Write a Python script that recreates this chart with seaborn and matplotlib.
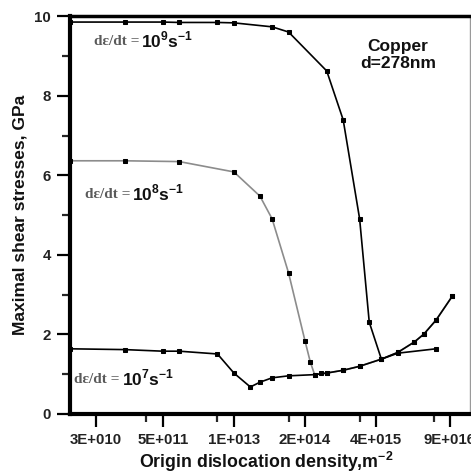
import matplotlib
matplotlib.use('Agg')
import matplotlib.pyplot as plt
from matplotlib.ticker import FixedLocator, NullFormatter
import pandas as pd
import seaborn as sns

# strain rate 10^7 s^-1
x_r7 = [1e10, 1e11, 5e11, 1e12, 5e12, 1e13, 2e13, 3e13, 5e13, 1e14, 3e14, 5e14, 1e15, 2e15, 5e15, 1e16, 5e16]
y_r7 = [1.64, 1.62, 1.58, 1.58, 1.51, 1.03, 0.68, 0.80, 0.91, 0.96, 0.99, 1.03, 1.10, 1.20, 1.38, 1.53, 1.64]

# strain rate 10^8 s^-1
x_r8 = [1e10, 1e11, 1e12, 1e13, 3e13, 5e13, 1e14, 2e14, 2.5e14, 3e14, 4e14, 5e14, 1e15, 2e15, 5e15, 1e16,
        2e16, 3e16, 5e16, 1e17]
y_r8 = [6.37, 6.37, 6.35, 6.09, 5.48, 4.91, 3.55, 1.84, 1.31, 0.99, 1.02, 1.03, 1.10, 1.20, 1.38, 1.55,
        1.81, 2.01, 2.36, 2.97]

# strain rate 10^9 s^-1
x_r9 = [1e10, 1e11, 5e11, 1e12, 5e12, 1e13, 5e13, 1e14, 5e14, 1e15, 2e15, 3e15, 5e15, 1e16, 2e16, 3e16,
        5e16, 1e17]
y_r9 = [9.86, 9.86, 9.86, 9.85, 9.85, 9.84, 9.74, 9.61, 8.63, 7.40, 4.91, 2.31, 1.38, 1.55, 1.81, 2.01,
        2.36, 2.97]

x_ticks = [3e10, 5e11, 1e13, 2e14, 4e15, 9e16]
x_ticklabels = ['3E+010', '5E+011', '1E+013', '2E+014', '4E+015', '9E+016']
x_minor = [2.5e11, 5e12, 1e14, 2e15, 4.5e16]

sns.set_theme(style='white')
plt.rcParams['font.family'] = ['Liberation Sans', 'DejaVu Sans']
plt.rcParams['mathtext.fontset'] = 'custom'
plt.rcParams['mathtext.rm'] = 'Liberation Sans'
plt.rcParams['mathtext.bf'] = 'Liberation Sans:bold'

fig, ax = plt.subplots(figsize=(4.71, 4.74), dpi=100)
fig.subplots_adjust(left=0.1486, right=0.998, bottom=0.1266, top=0.9652)

mk = dict(marker='s', markersize=2.4, markerfacecolor='black', markeredgecolor='black', linewidth=1.2)
sns.lineplot(x=x_r8, y=y_r8, color='#8c8c8c', ax=ax, **mk)
sns.lineplot(x=x_r7, y=y_r7, color='black', ax=ax, **mk)
sns.lineplot(x=x_r9, y=y_r9, color='black', ax=ax, **mk)

ax.set_xscale('log')
ax.set_xlim(1e10, 2.1e17)
ax.set_ylim(0, 10)
ax.xaxis.set_major_locator(FixedLocator(x_ticks))
ax.set_xticklabels(x_ticklabels)
ax.xaxis.set_minor_locator(FixedLocator(x_minor))
ax.xaxis.set_minor_formatter(NullFormatter())
ax.set_yticks([0, 2, 4, 6, 8, 10])
ax.set_yticks([1, 3, 5, 7, 9], minor=True)

ax.tick_params(which='major', direction='out', length=9.5, width=1.6, pad=4,
               labelsize=10.8, bottom=True, left=True, colors='black')
ax.tick_params(which='minor', direction='out', length=5.5, width=1.6, bottom=True, left=True)
for lab in ax.get_xticklabels() + ax.get_yticklabels():
    lab.set_fontweight('bold')
    lab.set_color('#222222')

for side, lw, col in [('left', 3, 'black'), ('bottom', 3, 'black'), ('top', 2.5, 'black'), ('right', 1, '#9a9a9a')]:
    ax.spines[side].set_linewidth(lw)
    ax.spines[side].set_color(col)
    ax.spines[side].set_visible(True)

ax.set_xlabel('Origin dislocation density,m$^{\\mathbf{-2}}$', fontsize=12.8, fontweight='bold', color='#111111')
ax.set_ylabel('Maximal shear stresses, GPa', fontsize=12.5, fontweight='bold', color='#111111')
ax.xaxis.set_label_coords(0.49, -0.09)
ax.yaxis.set_label_coords(-0.105, 0.5)

rate_labels = [('9', 0.1725, 0.941), ('8', 0.15, 0.556), ('7', 0.125, 0.0906)]
for p, bx, by in rate_labels:
    ax.text(bx, by - 0.004, 'd\u03b5/dt =', transform=ax.transAxes, ha='right', va='center',
            family='Liberation Serif', fontweight='bold', fontsize=11, color='#5a5a5a')
    ax.text(bx + 0.004, by, '10$^{\\mathbf{' + p + '}}$s$^{\\mathbf{-1}}$', transform=ax.transAxes,
            ha='left', va='center', fontweight='bold', fontsize=12.5, color='#111111')

ax.text(0.82, 0.903, 'Copper\nd=278nm', transform=ax.transAxes, ha='center', va='center',
        fontsize=12.5, fontweight='bold', color='#111111', linespacing=1.1)

fig.savefig('out.png', dpi=100)
